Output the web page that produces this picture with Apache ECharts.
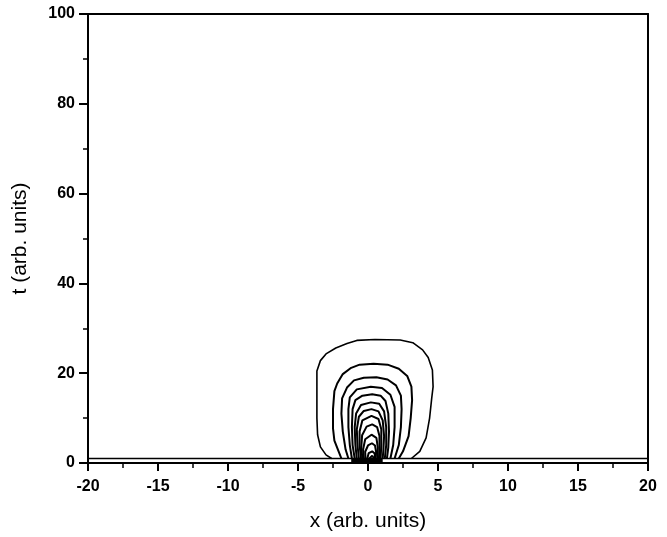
<!DOCTYPE html>
<html>
<head>
<meta charset="utf-8">
<title>contour</title>
<script src="https://cdn.jsdelivr.net/npm/echarts@6/dist/echarts.min.js"></script>
<style>
    html, body {margin: 0; padding: 0; background: #fff;}
    #echarts1 {width: 667px; height: 537px;}
</style>
</head>
<body>
<div id="echarts1"></div>
<script>
// tick labels
var xTicks = [-20, -15, -10, -5, 0, 5, 10, 15, 20];
var yTicks = [0, 20, 40, 60, 80, 100];

// flat line just above t = 0
var baseLine = [[-20, 1.0], [20, 1.0]];
// dark band where all contours meet
var baseBand = [[-1.2, 0.5], [1.05, 0.5]];

// contour lines, outer -> inner as [x, t]
var c1 = [[-2.6, 1.0], [-3.0, 1.8], [-3.4, 3.6], [-3.6, 6.3], [-3.65, 10], [-3.65, 15], [-3.65, 20.5], [-3.4, 22.8], [-3.0, 24.3], [-2.3, 25.6], [-1.5, 26.6], [-0.8, 27.3], [0.5, 27.5], [2.3, 27.4], [3.2, 26.8], [3.9, 25.2], [4.3, 23.5], [4.6, 20.7], [4.65, 17], [4.55, 14.4], [4.4, 10], [4.15, 5.6], [3.7, 2.6], [3.1, 1.0]];
var c2 = [[-1.9, 1.0], [-2.1, 2.6], [-2.4, 5], [-2.5, 7.7], [-2.5, 12], [-2.4, 16], [-2.2, 17.7], [-1.8, 19.8], [-1.2, 21.2], [-0.6, 21.9], [0.4, 22.1], [1.4, 21.9], [2.2, 21.0], [2.8, 19.4], [3.1, 17], [3.15, 14], [3.05, 10], [2.9, 6], [2.5, 2.6], [2.2, 1.0]];
var c3 = [[-1.4, 1.0], [-1.6, 3], [-1.8, 7], [-1.9, 11], [-1.85, 14.4], [-1.5, 16.8], [-1.0, 18.4], [-0.3, 19.0], [0.6, 19.1], [1.4, 18.6], [2.0, 17.3], [2.35, 15], [2.4, 12], [2.35, 8], [2.2, 4], [1.9, 1.0]];
var c4 = [[-1.15, 1.0], [-1.3, 4], [-1.4, 8], [-1.4, 12], [-1.3, 14.6], [-0.8, 16.4], [0.2, 17.0], [1.0, 16.7], [1.6, 15.2], [1.9, 12.5], [1.9, 8], [1.8, 4], [1.6, 1.0]];
var c5 = [[-0.95, 1.0], [-1.1, 4], [-1.15, 8], [-1.1, 12], [-0.9, 14], [-0.4, 15.0], [0.3, 15.3], [0.9, 15.0], [1.25, 13.8], [1.45, 11], [1.5, 7], [1.45, 3.5], [1.35, 1.0]];
var c6 = [[-0.8, 1.0], [-0.9, 4], [-0.95, 8], [-0.85, 11], [-0.5, 12.9], [0.2, 13.5], [0.8, 13.2], [1.15, 11.5], [1.3, 8], [1.3, 4], [1.2, 1.0]];
var c7 = [[-0.65, 1.0], [-0.75, 4], [-0.8, 7.5], [-0.65, 10.3], [-0.3, 11.6], [0.25, 12.0], [0.75, 11.5], [1.05, 9.5], [1.15, 6], [1.1, 3], [1.05, 1.0]];
var c8 = [[-0.5, 1.0], [-0.6, 4], [-0.6, 7], [-0.4, 9.5], [0.25, 10.5], [0.75, 9.8], [0.95, 7.5], [0.95, 4], [0.9, 1.0]];
var c9 = [[-0.4, 1.0], [-0.48, 3.5], [-0.42, 6.2], [-0.1, 8.1], [0.3, 8.6], [0.65, 8.0], [0.82, 6], [0.82, 3], [0.78, 1.0]];
var c10 = [[-0.3, 1.0], [-0.35, 3], [-0.2, 5.3], [0.25, 6.3], [0.6, 5.6], [0.7, 3.5], [0.68, 1.0]];
var c11 = [[-0.18, 1.0], [-0.2, 2.5], [0, 3.9], [0.28, 4.4], [0.5, 3.9], [0.58, 2.5], [0.55, 1.0]];
var c12 = [[-0.05, 1.0], [0.05, 2.2], [0.3, 2.6], [0.48, 2.1], [0.5, 1.0]];
var c13 = [[0.1, 1.0], [0.3, 1.6], [0.45, 1.0]];

var contours = [c1, c2, c3, c4, c5, c6, c7, c8, c9, c10, c11, c12, c13];

var dom = document.getElementById("echarts1");
var myChart = echarts.init(dom);
var font = 'Liberation Sans, Arial, sans-serif';

var series = [];
contours.forEach(function (c, i) {
    series.push({
        type: 'line',
        data: c,
        showSymbol: false,
        symbol: 'none',
        silent: true,
        animation: false,
        lineStyle: {color: '#000', width: i == 0 ? 1.6 : 2}
    });
});
series.push({
    type: 'line', data: baseLine, symbol: 'none', silent: true, animation: false,
    lineStyle: {color: '#000', width: 1.3}
});
series.push({
    type: 'line', data: baseBand, symbol: 'none', silent: true, animation: false,
    lineStyle: {color: '#000', width: 4}
});

var option = {
    backgroundColor: '#fff',
    animation: false,
    grid: {left: 88, right: 19, top: 14, bottom: 72},
    xAxis: [{
        type: 'value',
        min: xTicks[0],
        max: xTicks[xTicks.length - 1],
        interval: 5,
        name: 'x (arb. units)',
        nameLocation: 'middle',
        nameGap: 48,
        nameTextStyle: {fontFamily: font, fontSize: 21, color: '#000'},
        axisLine: {onZero: false, lineStyle: {color: '#000', width: 2}},
        axisTick: {inside: false, length: 8, lineStyle: {color: '#000', width: 2}},
        minorTick: {show: true, splitNumber: 2, length: 5, lineStyle: {color: '#000', width: 1.5}},
        axisLabel: {fontFamily: font, fontSize: 16, fontWeight: 'bold', color: '#000', margin: 16},
        splitLine: {show: false}
    }, {
        type: 'value', position: 'top', min: -20, max: 20,
        axisLine: {onZero: false, lineStyle: {color: '#000', width: 2}},
        axisTick: {show: false}, axisLabel: {show: false}, splitLine: {show: false}
    }],
    yAxis: [{
        type: 'value',
        min: yTicks[0],
        max: yTicks[yTicks.length - 1],
        interval: 20,
        name: 't (arb. units)',
        nameLocation: 'middle',
        nameGap: 57,
        nameTextStyle: {fontFamily: font, fontSize: 21, color: '#000'},
        axisLine: {onZero: false, lineStyle: {color: '#000', width: 2}},
        axisTick: {inside: false, length: 9, lineStyle: {color: '#000', width: 2}},
        minorTick: {show: true, splitNumber: 2, length: 5, lineStyle: {color: '#000', width: 1.5}},
        axisLabel: {fontFamily: font, fontSize: 16, fontWeight: 'bold', color: '#000', margin: 13},
        splitLine: {show: false}
    }, {
        type: 'value', position: 'right', min: 0, max: 100,
        axisLine: {onZero: false, lineStyle: {color: '#000', width: 2}},
        axisTick: {show: false}, axisLabel: {show: false}, splitLine: {show: false}
    }],
    series: series
};

if (option && typeof option === "object") {
    myChart.setOption(option, true);
}
</script>
</body>
</html>
